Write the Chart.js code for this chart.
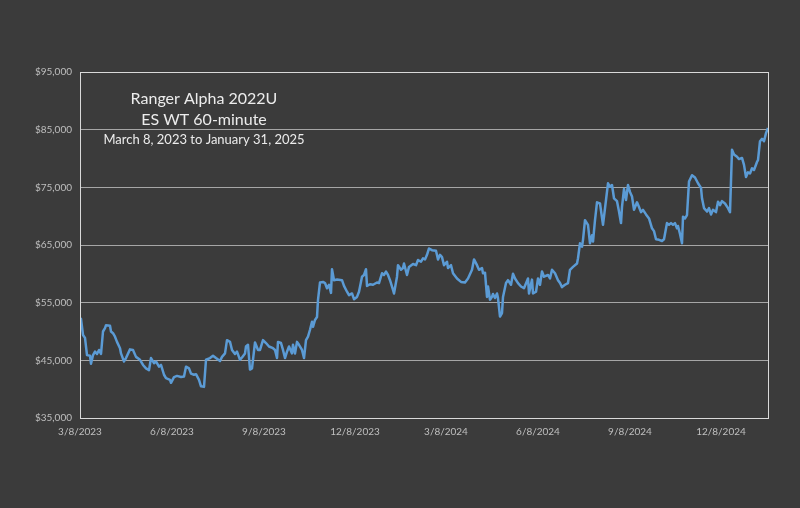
<!DOCTYPE html>
<html>
<head>
<meta charset="utf-8">
<title>Ranger Alpha 2022U</title>
<script src="https://cdn.jsdelivr.net/npm/chart.js@4.4.1/dist/chart.umd.min.js"></script>
<style>
  html, body { margin: 0; padding: 0; background: #3b3b3b; }
  canvas { display: block; }
</style>
</head>
<body>
<canvas id="equityChart" width="800" height="508"></canvas>
<script>
// title block drawn inside the plot
const titleLines = ['Ranger Alpha 2022U', 'ES WT 60-minute', 'March 8, 2023 to January 31, 2025'];

// x axis: days since 3/8/2023, labelled quarterly
const tickDays = [0, 92, 184, 275, 366, 458, 550, 641];
const tickLabels = ['3/8/2023', '6/8/2023', '9/8/2023', '12/8/2023', '3/8/2024', '6/8/2024', '9/8/2024', '12/8/2024'];

// equity curve
const days = [
  0, 1, 3, 5, 7, 10, 11, 13, 15, 17, 19, 21, 23, 25, 26, 30, 31, 33, 35, 37, 40,
  41, 44, 46, 50, 53, 56, 60, 63, 66, 69, 71, 74, 76, 79, 81, 84, 86, 90, 91, 94,
  97, 101, 104, 106, 109, 111, 114, 116, 119, 121, 124, 126, 130, 133, 136, 140, 142, 145, 147, 150,
  152, 155, 157, 160, 162, 165, 166, 168, 170, 172, 175, 178, 180, 183, 186, 189, 193, 195, 197, 198,
  201, 203, 205, 207, 209, 212, 213, 215, 217, 219, 222, 224, 226, 228, 230, 232, 233, 235, 237, 238,
  240, 243, 245, 247, 249, 251, 252, 254, 257, 262, 264, 267, 269, 272, 274, 277, 279, 282, 284, 286,
  287, 290, 293, 297, 299, 302, 304, 306, 308, 310, 313, 314, 317, 318, 321, 323, 324, 327, 329, 333,
  336, 338, 341, 343, 345, 347, 349, 352, 356, 358, 360, 362, 364, 367, 368, 371, 373, 377, 381, 385,
  388, 392, 394, 397, 399, 402, 403, 405, 407, 408, 410, 412, 413, 415, 417, 418, 420, 422, 423, 426,
  428, 431, 433, 435, 438, 441, 444, 448, 449, 452, 453, 456, 458, 460, 462, 464, 468, 470, 472, 475,
  478, 480, 482, 485, 488, 490, 493, 497, 498, 500, 502, 503, 505, 508, 510, 512, 513, 515, 517, 520,
  523, 526, 528, 530, 532, 534, 537, 539, 541, 542, 544, 546, 548, 550, 552, 554, 557, 559, 561, 563,
  566, 569, 572, 574, 576, 579, 582, 584, 587, 589, 591, 593, 595, 597, 598, 600, 602, 603, 605, 607,
  609, 612, 615, 618, 621, 622, 624, 627, 629, 631, 633, 636, 638, 640, 642, 645, 648, 650, 652, 654,
  657, 659, 662, 664, 666, 668, 670, 672, 674, 677, 678, 680, 682, 684, 686, 688
];
const equity = [
  52300, 52200, 49400, 48900, 45900, 45800, 44400, 45900, 46500, 46100, 46800, 46100, 50000, 50600, 51100, 51000, 50000, 49700, 49100, 48200, 47100,
  46200, 44800, 45400, 46900, 46800, 45600, 45100, 44200, 43600, 43300, 45400, 44500, 44800, 43900, 44200, 42500, 41900, 41600, 41100, 42100,
  42300, 42100, 42200, 43900, 43600, 42700, 42500, 42600, 41600, 40500, 40400, 45100, 45400, 45800, 45400, 44900, 45600, 46200, 48500, 48200,
  46800, 46100, 46500, 45100, 45500, 46200, 47400, 47700, 43400, 43600, 48100, 46800, 46800, 48500, 48000, 47400, 47100, 46800, 45400, 48200,
  48000, 46800, 45400, 46500, 47400, 46200, 47700, 46200, 48200, 47700, 46800, 45400, 48500, 49100, 50300, 51700, 50800, 52000, 52500, 55500,
  58500, 58600, 58400, 57500, 58100, 56700, 60800, 58900, 59000, 58900, 57900, 56900, 56300, 56600, 55600, 56000, 56900, 59500, 59800, 60800,
  57900, 58200, 58100, 58500, 58400, 60100, 59800, 60400, 59800, 58900, 57200, 56600, 59500, 61500, 60700, 61000, 61800, 59800, 61200, 61700,
  61500, 62400, 62100, 62700, 62500, 63300, 64400, 64100, 64000, 62500, 63300, 62900, 61500, 62100, 61000, 61500, 60100, 59200, 58600, 58500,
  59200, 60700, 62500, 61500, 60700, 61000, 60100, 60200, 56000, 57800, 55500, 56000, 56500, 55800, 56600, 55800, 52600, 53200, 56000, 58400,
  58900, 58100, 60000, 59200, 58400, 57800, 57500, 59200, 56600, 59000, 56600, 56900, 59200, 58100, 60400, 59500, 59800, 59200, 60700, 60100,
  58900, 58400, 57700, 58100, 58400, 60700, 61200, 61800, 62700, 65300, 64700, 65900, 69300, 68500, 65300, 66700, 65600, 69300, 72400, 72200,
  68500, 72800, 75700, 75100, 75400, 73100, 72600, 70800, 68800, 71600, 74700, 72800, 75400, 74200, 73400, 71100, 72400, 71600, 70700, 71100,
  70300, 69600, 67900, 67400, 66000, 65900, 65700, 66000, 68800, 68500, 68800, 68500, 68800, 67900, 68300, 66900, 65300, 69900, 69600, 70200,
  76000, 77100, 76700, 75700, 74900, 73100, 71400, 70800, 71400, 70300, 71100, 70700, 72500, 71900, 72600, 72200, 71400, 70700, 81500, 80700,
  80300, 79900, 80100, 78900, 76800, 77600, 77400, 78300, 78000, 79400, 79700, 83000, 83400, 83000, 84400, 85300
];

const fontFamily = 'Lato, "Open Sans", sans-serif';

// frame around the plot area, like the Excel plot border
const plotFrame = {
  id: 'plotFrame',
  afterDatasetsDraw(chart) {
    const { ctx, chartArea: a } = chart;
    ctx.save();
    ctx.strokeStyle = '#d9d9d9';
    ctx.lineWidth = 1;
    ctx.strokeRect(Math.round(a.left) + 0.5, Math.round(a.top) + 0.5,
      Math.round(a.right - a.left), Math.round(a.bottom - a.top));
    ctx.restore();
  }
};

// three-line caption in the top-left of the plot
const titleBox = {
  id: 'titleBox',
  afterDraw(chart) {
    const ctx = chart.ctx;
    const cx = 204;
    ctx.save();
    ctx.fillStyle = '#ececec';
    ctx.textAlign = 'center';
    ctx.textBaseline = 'middle';
    ctx.font = '16px ' + fontFamily;
    ctx.fillText(titleLines[0], cx, 99);
    ctx.fillText(titleLines[1], cx, 120);
    ctx.font = '13px ' + fontFamily;
    ctx.fillText(titleLines[2], cx, 140);
    ctx.restore();
  }
};

new Chart(document.getElementById('equityChart'), {
  type: 'line',
  data: {
    datasets: [{
      data: days.map((d, i) => ({ x: d, y: equity[i] })),
      borderColor: '#5b9bd5',
      borderWidth: 2.5,
      pointRadius: 0,
      tension: 0,
      borderJoinStyle: 'round'
    }]
  },
  options: {
    responsive: false,
    animation: false,
    layout: { padding: { left: 0, top: 72, right: 32, bottom: 0 } },
    plugins: {
      legend: { display: false },
      tooltip: { enabled: false }
    },
    scales: {
      x: {
        type: 'linear',
        min: 0,
        max: 688,
        afterFit: (scale) => { scale.height = 90; },
        afterBuildTicks: (scale) => { scale.ticks = tickDays.map(v => ({ value: v })); },
        grid: { display: false, drawTicks: false },
        border: { display: false },
        ticks: {
          color: '#bfbfbf',
          font: { family: fontFamily, size: 10 },
          padding: 8,
          maxRotation: 0,
          autoSkip: false,
          callback: (v) => tickLabels[tickDays.indexOf(v)]
        }
      },
      y: {
        min: 35000,
        max: 95000,
        afterFit: (scale) => { scale.width = 80; },
        grid: { color: '#a6a6a6', lineWidth: 1, drawTicks: false },
        border: { display: false },
        ticks: {
          stepSize: 10000,
          color: '#bfbfbf',
          font: { family: fontFamily, size: 10 },
          padding: 8,
          callback: (v) => '$' + v.toLocaleString('en-US')
        }
      }
    }
  },
  plugins: [plotFrame, titleBox]
});
</script>
</body>
</html>
